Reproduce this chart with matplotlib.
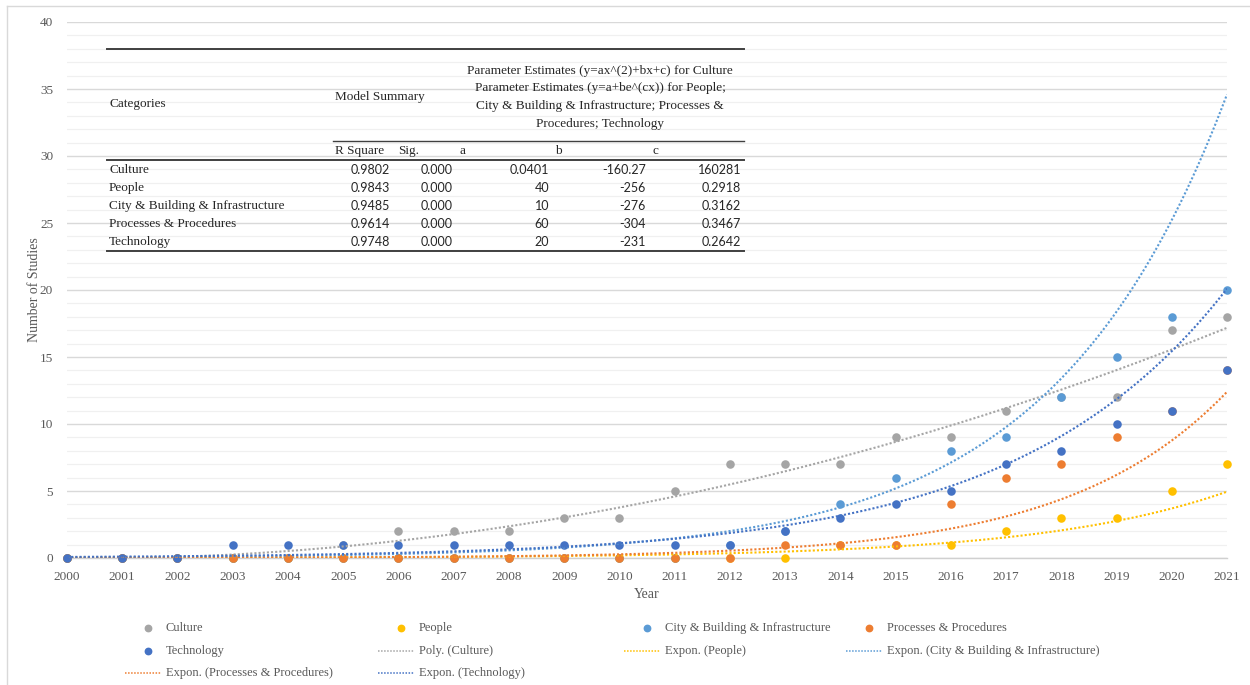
import numpy as np
import matplotlib
matplotlib.use("Agg")
import matplotlib.pyplot as plt
from matplotlib.lines import Line2D

# ---- data -------------------------------------------------------------
years = [2000, 2001, 2002, 2003, 2004, 2005, 2006, 2007, 2008, 2009, 2010,
         2011, 2012, 2013, 2014, 2015, 2016, 2017, 2018, 2019, 2020, 2021]
culture = [0, 0, 0, 0, 0, 1, 2, 2, 2, 3, 3, 5, 7, 7, 7, 9, 9, 11, 12, 12, 17, 18]
people = [0, 0, 0, 0, 0, 0, 0, 0, 0, 0, 0, 0, 0, 0, 1, 1, 1, 2, 3, 3, 5, 7]
city = [0, 0, 0, 0, 0, 0, 0, 0, 0, 0, 0, 0, 1, 2, 4, 6, 8, 9, 12, 15, 18, 20]
processes = [0, 0, 0, 0, 0, 0, 0, 0, 0, 0, 0, 0, 0, 1, 1, 1, 4, 6, 7, 9, 11, 14]
technology = [0, 0, 0, 1, 1, 1, 1, 1, 1, 1, 1, 1, 1, 2, 3, 4, 5, 7, 8, 10, 11, 14]

series_names = ["Culture", "People", "City & Building & Infrastructure",
                "Processes & Procedures", "Technology"]
series_values = [culture, people, city, processes, technology]
series_colors = ["#a5a5a5", "#ffc000", "#5b9bd5", "#ed7d31", "#4472c4"]

# model summary table
table_categories = ["Culture", "People", "City & Building & Infrastructure",
                    "Processes & Procedures", "Technology"]
r_square = ["0.9802", "0.9843", "0.9485", "0.9614", "0.9748"]
sig = ["0.000", "0.000", "0.000", "0.000", "0.000"]
param_a = ["0.0401", "40", "10", "60", "20"]
param_b = ["-160.27", "-256", "-276", "-304", "-231"]
param_c = ["160281", "0.2918", "0.3162", "0.3467", "0.2642"]

# exponential trend levels in 2021 (People, City, Processes, Technology)
expon_level_2021 = [4.95, 34.6, 12.4, 20.1]

y_ticks = [0, 5, 10, 15, 20, 25, 30, 35, 40]

# ---- figure -----------------------------------------------------------
W, H = 1250, 685
fig = plt.figure(figsize=(W / 100, H / 100), dpi=100)
fig.patch.set_facecolor("white")


def fx(x):
    return x / W


def fy(y):
    return 1 - y / H


SERIF = "Liberation Serif"
SANS_NUM = "Lato"
GREY_TXT = "#595959"

ax = fig.add_axes([fx(67), fy(558), fx(1227) - fx(67), fy(22) - fy(558)])
ax.set_xlim(2000, 2021)
ax.set_ylim(0, 40)
for s in ["top", "right", "left"]:
    ax.spines[s].set_visible(False)
ax.spines["bottom"].set_color("#d0d0d0")
ax.spines["bottom"].set_linewidth(1.0)

ax.set_yticks(y_ticks)
ax.set_yticks(np.arange(0, 41, 1), minor=True)
ax.set_xticks(years)
ax.grid(axis="y", which="major", color="#d9d9d9", linewidth=1.0)
ax.grid(axis="y", which="minor", color="#f0f0f0", linewidth=0.9)
ax.set_axisbelow(True)
ax.tick_params(axis="both", which="both", length=0)
ax.tick_params(axis="y", pad=10, labelsize=9.5, labelcolor=GREY_TXT)
ax.tick_params(axis="x", pad=9, labelsize=9.5, labelcolor=GREY_TXT)
for lab in ax.get_xticklabels() + ax.get_yticklabels():
    lab.set_fontfamily(SERIF)

ax.set_xlabel("Year", fontfamily=SERIF, fontsize=10, color=GREY_TXT, labelpad=4)
ax.set_ylabel("Number of Studies", fontfamily=SERIF, fontsize=10,
              color=GREY_TXT)
ax.yaxis.set_label_coords(-0.0225, 0.5)

# scatter points (later series drawn on top)
for i, (vals, col) in enumerate(zip(series_values, series_colors)):
    ax.scatter(years, vals, s=38, color=col, zorder=3 + i * 0.1,
               clip_on=False, linewidths=0)

# trend lines
xs = np.linspace(2000, 2021, 400)
dot = (0, (1.0, 1.0))
t = np.array(years) - 2000
poly = np.polyfit(t, culture, 2)
ax.plot(xs, np.polyval(poly, xs - 2000), color="#a5a5a5", lw=1.5,
        linestyle=dot, zorder=4)

expo_series = [1, 2, 3, 4]
for k, idx in enumerate(expo_series):
    rate = float(param_c[idx])
    level = expon_level_2021[k]
    ax.plot(xs, level * np.exp(rate * (xs - 2021)), color=series_colors[idx],
            lw=1.5, linestyle=dot, zorder=4)

# ---- model summary table ---------------------------------------------
TBL = "#262626"
line_kw = dict(color="#404040", transform=fig.transFigure)
fig.add_artist(Line2D([fx(107), fx(744)], [fy(49), fy(49)], lw=1.4, **line_kw))
fig.add_artist(Line2D([fx(333), fx(744)], [fy(141), fy(141)], lw=1.0, **line_kw))
fig.add_artist(Line2D([fx(107), fx(744)], [fy(160), fy(160)], lw=1.4, **line_kw))
fig.add_artist(Line2D([fx(107), fx(744)], [fy(251), fy(251)], lw=1.4, **line_kw))

tkw = dict(fontfamily=SERIF, fontsize=9.5, color=TBL, va="center")
fig.text(fx(109), fy(104), "Categories", ha="left", **tkw)
fig.text(fx(335), fy(97), "Model Summary", ha="left", **tkw)
header_lines = ["Parameter Estimates (y=ax^(2)+bx+c) for Culture",
                "Parameter Estimates (y=a+be^(cx)) for People;",
                "City & Building & Infrastructure; Processes &",
                "Procedures; Technology"]
for j, ln in enumerate(header_lines):
    fig.text(fx(600), fy(71 + j * 17.5), ln, ha="center", **tkw)
fig.text(fx(335), fy(151), "R Square", ha="left", **tkw)
fig.text(fx(398), fy(151), "Sig.", ha="left", **tkw)
fig.text(fx(463), fy(151), "a", ha="center", **tkw)
fig.text(fx(558), fy(151), "b", ha="center", **tkw)
fig.text(fx(655), fy(151), "c", ha="center", **tkw)

nkw = dict(fontfamily=SANS_NUM, fontsize=9, color=TBL, va="center", ha="right")
for r in range(len(table_categories)):
    yy = fy(170 + r * 18)
    fig.text(fx(109), yy, table_categories[r], ha="left", **tkw)
    fig.text(fx(390), yy, r_square[r], **nkw)
    fig.text(fx(453), yy, sig[r], **nkw)
    fig.text(fx(549), yy, param_a[r], **nkw)
    fig.text(fx(646), yy, param_b[r], **nkw)
    fig.text(fx(741), yy, param_c[r], **nkw)

# ---- legend -----------------------------------------------------------
legend_entries = [
    ("marker", 0, "Culture"), ("marker", 1, "People"),
    ("marker", 2, "City & Building & Infrastructure"),
    ("marker", 3, "Processes & Procedures"),
    ("marker", 4, "Technology"), ("line", 0, "Poly. (Culture)"),
    ("line", 1, "Expon. (People)"),
    ("line", 2, "Expon. (City & Building & Infrastructure)"),
    ("line", 3, "Expon. (Processes & Procedures)"),
    ("line", 4, "Expon. (Technology)"),
]
col_text_x = [166, 419, 665, 887]
row_y = [628, 651, 673]
for n, (kind, idx, label) in enumerate(legend_entries):
    r, c = divmod(n, 4)
    tx, ty = col_text_x[c], row_y[r]
    if kind == "marker":
        fig.add_artist(Line2D([fx(tx - 18)], [fy(ty)], marker="o", ms=4.6,
                              color=series_colors[idx], lw=0,
                              transform=fig.transFigure))
    else:
        fig.add_artist(Line2D([fx(tx - 41), fx(tx - 5)], [fy(ty), fy(ty)],
                              color=series_colors[idx], lw=1.1,
                              linestyle=(0, (1, 1)), transform=fig.transFigure))
    fig.text(fx(tx), fy(ty), label, fontfamily=SERIF, fontsize=9,
             color=GREY_TXT, ha="left", va="center")

# chart frame
fig.add_artist(Line2D([fx(7), fx(7)], [fy(6), 0], color="#d9d9d9", lw=1.0,
                      transform=fig.transFigure))
fig.add_artist(Line2D([fx(7), 1], [fy(6), fy(6)], color="#d9d9d9", lw=1.0,
                      transform=fig.transFigure))

fig.savefig("out.png", dpi=100, facecolor="white")
